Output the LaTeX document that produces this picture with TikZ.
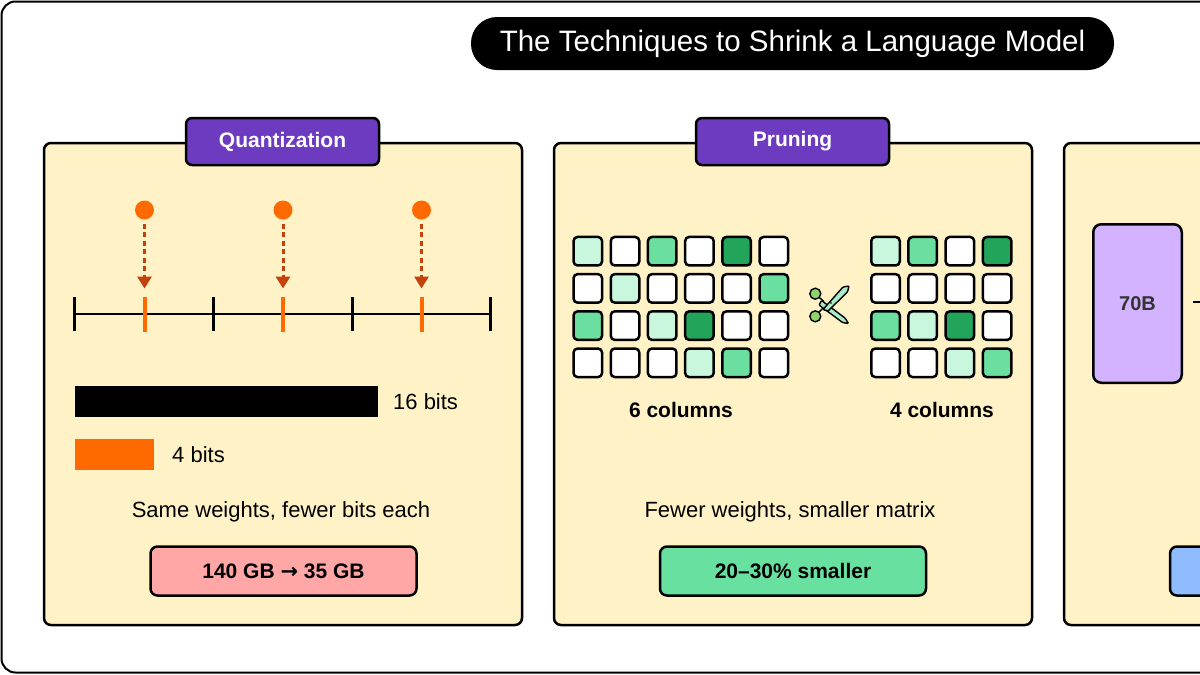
\documentclass[tikz,border=0pt]{standalone}
\usepackage{fontspec}
\setmainfont{Liberation Sans}
\newfontfamily\arrowfont{DejaVu Sans}
\usetikzlibrary{arrows.meta}
\definecolor{panelbg}{HTML}{FFF2C6}
\definecolor{tabpurple}{HTML}{6D3BC0}
\definecolor{qorange}{HTML}{FF6A00}
\definecolor{qbrown}{HTML}{C2410C}
\definecolor{pillpink}{HTML}{FFA6A6}
\definecolor{pillgreen}{HTML}{68E0A0}
\definecolor{pillblue}{HTML}{8EBCFF}
\definecolor{boxpurple}{HTML}{D3B3FF}
\definecolor{cW}{HTML}{FFFFFF}
\definecolor{cL}{HTML}{C8F7DE}
\definecolor{cM}{HTML}{6ADFA0}
\definecolor{cD}{HTML}{22A45A}
\definecolor{scmint}{HTML}{A9EBC9}
\definecolor{scgreen}{HTML}{8ED46A}
\begin{document}
\begin{tikzpicture}[x=1pt,y=-1pt,
  panel/.style={draw=black, fill=panelbg, line width=2.5pt, rounded corners=7pt,
    minimum width=478pt, minimum height=482pt, inner sep=0pt},
  tab/.style={draw=black, fill=tabpurple, line width=2.5pt, rounded corners=6pt,
    minimum width=193pt, minimum height=47pt, inner sep=0pt, text=white,
    font=\fontsize{21}{25}\selectfont\bfseries},
  pill/.style={draw=black, line width=2.5pt, rounded corners=7pt,
    minimum width=266pt, minimum height=49pt, inner sep=0pt,
    font=\fontsize{21}{25}\selectfont\bfseries},
  body/.style={font=\fontsize{22}{26}\selectfont, inner sep=0pt},
  boldlbl/.style={font=\fontsize{21}{25}\selectfont\bfseries, inner sep=0pt},
  cell/.style={draw=black, line width=2.5pt, rounded corners=4pt,
    minimum size=28.5pt, inner sep=0pt},
  tick/.style={line width=2.5pt, black},
  otick/.style={line width=4pt, qorange},
  qarrow/.style={qbrown, line width=3pt, dash pattern=on 5pt off 3.5pt,
    -{Triangle[width=14pt,length=12pt]}, shorten <=4pt},
  dot/.style={circle, fill=qorange, minimum size=19pt, inner sep=0pt}
]
\useasboundingbox (0,0) rectangle (1200,675);
\clip (0,0) rectangle (1200,675);
\fill[white] (0,0) rectangle (1200,675);

% outer frame
\draw[line width=2pt, rounded corners=14pt] (1.5,1.5) rectangle (1250,672.5);

% title
\node[fill=black, rounded corners=26pt, minimum width=643pt, minimum height=53pt,
  inner sep=0pt, text=white, font=\fontsize{29.5}{34}\selectfont] (title) at (792.5,43.5)
  {The Techniques to Shrink a Language Model};

% panels
\node[panel] (p1) at (283,384) {};
\node[panel] (p2) at (793,384) {};
\node[panel] (p3) at (1303,384) {};
\node[tab] (t1) at (282.5,141.5) {Quantization};
\node[tab] (t2) at (792.5,141.5) {Pruning};

% ---------- Quantization ----------
\coordinate (a0) at (74.5,314);
\coordinate (a1) at (213.5,314);
\coordinate (a2) at (352.5,314);
\coordinate (a3) at (490.5,314);
\draw[tick] (a0) -- (a3);
\foreach \n in {a0,a1,a2,a3} \draw[tick] ([yshift=-17pt]\n) -- ([yshift=17.5pt]\n);
\coordinate (o1) at (144.5,314);
\coordinate (o2) at (283,314);
\coordinate (o3) at (421.5,314);
\foreach \n in {o1,o2,o3} \draw[otick] ([yshift=-17.5pt]\n) -- ([yshift=17.5pt]\n);
\node[dot] (d1) at (144.5,210) {};
\node[dot] (d2) at (283,210) {};
\node[dot] (d3) at (421.5,210) {};
\coordinate (e1) at (144.5,288.5);
\coordinate (e2) at (283,288.5);
\coordinate (e3) at (421.5,288.5);
\draw[qarrow] (d1) -- (e1);
\draw[qarrow] (d2) -- (e2);
\draw[qarrow] (d3) -- (e3);

\node[fill=black, minimum width=303pt, minimum height=31.5pt, inner sep=0pt] (bar16) at (226.5,401.5) {};
\node[body, anchor=west] (l16) at (393,402) {16 bits};
\node[fill=qorange, minimum width=79pt, minimum height=31pt, inner sep=0pt] (bar4) at (114.5,454.5) {};
\node[body, anchor=west] (l4) at (172,455) {4 bits};
\node[body] (q1) at (281,512) {Same weights, fewer bits each};
\node[pill, fill=pillpink] (q2) at (283.5,571) {140 GB {\arrowfont\bfseries\fontsize{21}{25}\selectfont →} 35 GB};

% ---------- Pruning ----------
\foreach \row [count=\r] in {{L,W,M,W,D,W},{W,L,W,W,W,M},{M,W,L,D,W,W},{W,W,W,L,M,W}} {
  \foreach \c [count=\k] in \row {
    \node[cell, fill=c\c] (ga-\r-\k) at ({587.8+37.2*(\k-1)},{251.2+37.2*(\r-1)}) {};
  }
}
\foreach \row [count=\r] in {{L,M,W,D},{W,W,W,W},{M,L,D,W},{W,W,L,M}} {
  \foreach \c [count=\k] in \row {
    \node[cell, fill=c\c] (gb-\r-\k) at ({885.5+37.2*(\k-1)},{251.2+37.2*(\r-1)}) {};
  }
}
\node[boldlbl] (c6) at (681,410) {6 columns};
\node[boldlbl] (c4) at (942,410) {4 columns};

% scissors
\draw[line width=1.4pt, fill=scmint, rounded corners=1pt]
  (821.5,300.5) -- (845,318) -- (848.5,323.5) -- (842.5,322.5) -- (819,305) -- cycle;
\draw[line width=1.4pt, fill=scmint, rounded corners=1pt]
  (823,309.5) -- (843,287) -- (849,286) -- (847.5,292) -- (828,311) -- cycle;
\draw[line width=1.4pt] (815.3,294) -- (824,301.5);
\draw[line width=1.4pt] (815.3,316) -- (823,308);
\node[circle, draw=black, line width=1.4pt, fill=scgreen, minimum size=11pt, inner sep=0pt] (sc1) at (815.3,293.7) {};
\node[circle, draw=black, line width=1.4pt, fill=scgreen, minimum size=11pt, inner sep=0pt] (sc2) at (815.3,316.3) {};
\fill[black] (831,303) circle (0.9pt);

\node[body] (pr1) at (790,512) {Fewer weights, smaller matrix};
\node[pill, fill=pillgreen] (pr2) at (793,571) {20–30\% smaller};

% ---------- third panel ----------
\node[draw=black, fill=boxpurple, line width=2.5pt, rounded corners=8pt,
  minimum width=88.5pt, minimum height=158.5pt, inner sep=0pt,
  text=black!80, font=\fontsize{20}{24}\selectfont\bfseries] (m70) at (1137.5,303.5) {70B};
\coordinate (mout) at (1260,302);
\draw[line width=2pt] ([xshift=10pt]m70.east |- mout) -- (mout);
\node[pill, fill=pillblue] (b3) at (1303,571) {};

\end{tikzpicture}
\end{document}
